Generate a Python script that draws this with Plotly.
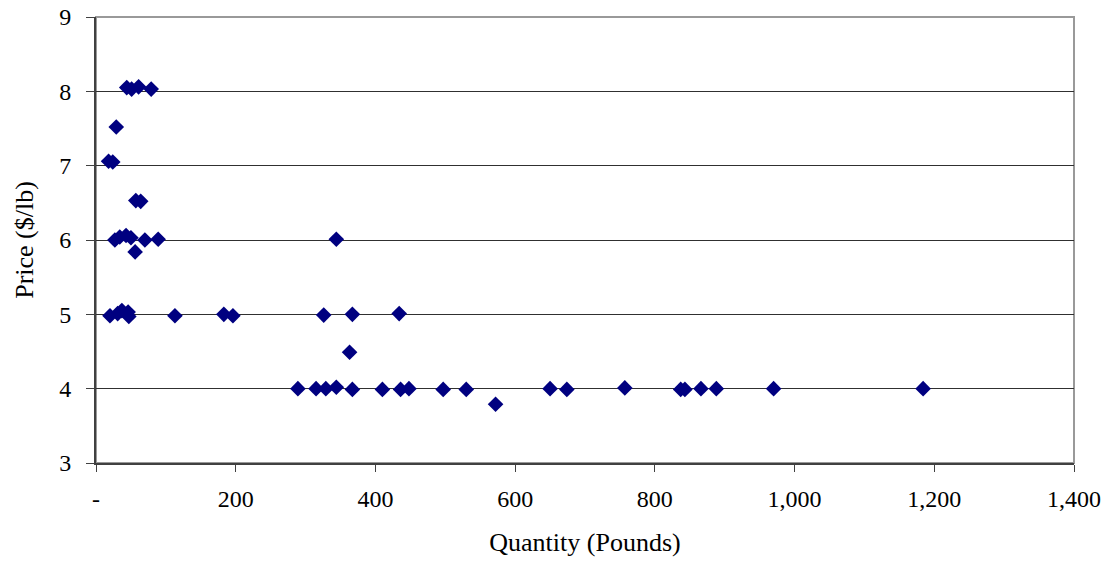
import plotly.graph_objects as go

quantity = [44, 51, 61, 79, 29, 18, 24, 57, 64,
            27, 34, 43, 50, 70, 89, 56,
            20, 31, 37, 46, 47, 113, 183, 196,
            344, 326, 367, 434, 363,
            289, 315, 329, 344, 367, 410, 436, 448, 497, 530, 572,
            650, 674, 757, 837, 843, 866, 888, 970, 1184]
price = [8.05, 8.03, 8.06, 8.03, 7.52, 7.06, 7.05, 6.53, 6.52,
         6.0, 6.04, 6.06, 6.03, 6.0, 6.01, 5.84,
         4.98, 5.01, 5.05, 5.03, 4.97, 4.98, 5.0, 4.98,
         6.01, 4.99, 5.0, 5.01, 4.49,
         4.0, 4.0, 4.0, 4.02, 3.99, 3.99, 3.99, 4.0, 3.99, 3.99, 3.79,
         4.0, 3.99, 4.01, 3.99, 3.99, 4.0, 4.0, 4.0, 4.0]

x_tickvals = [0, 200, 400, 600, 800, 1000, 1200, 1400]
x_ticktext = ["-", "200", "400", "600", "800", "1,000", "1,200", "1,400"]
y_tickvals = [3, 4, 5, 6, 7, 8, 9]

FONT = "Liberation Serif, Times New Roman, serif"

fig = go.Figure()
fig.add_trace(go.Scatter(
    x=quantity, y=price, mode="markers",
    marker=dict(symbol="diamond", size=12, color="#000080",
                line=dict(width=0)),
    showlegend=False, hoverinfo="x+y"))

fig.add_shape(type="rect", xref="paper", yref="paper", x0=0, y0=0, x1=1, y1=1,
              line=dict(color="#999999", width=2), layer="below")

fig.update_layout(
    width=1106, height=561,
    margin=dict(l=96, r=32, t=17, b=98),
    paper_bgcolor="white", plot_bgcolor="white",
    font=dict(family=FONT, size=24, color="black"),
    xaxis=dict(range=[0, 1400], tickvals=x_tickvals, ticktext=x_ticktext,
               automargin=False,
               showgrid=False, zeroline=False, showline=True,
               linecolor="#404040", linewidth=2, ticks="outside",
               ticklen=7, tickcolor="#404040", tickwidth=1,
               ticklabelstandoff=6,
               tickfont=dict(family=FONT, size=24),
               title=dict(text="Quantity (Pounds)", standoff=22,
                          font=dict(family=FONT, size=26))),
    yaxis=dict(range=[3, 9], tickvals=y_tickvals,
               automargin=False,
               showgrid=True, gridcolor="#303030", gridwidth=1,
               zeroline=False, showline=True,
               linecolor="#404040", linewidth=2, ticks="outside",
               ticklen=8, tickcolor="#404040", tickwidth=1,
               ticklabelstandoff=10,
               tickfont=dict(family=FONT, size=24),
               title=dict(text="Price ($/lb)", standoff=18,
                          font=dict(family=FONT, size=26))),
)

fig.write_html("out.html")
